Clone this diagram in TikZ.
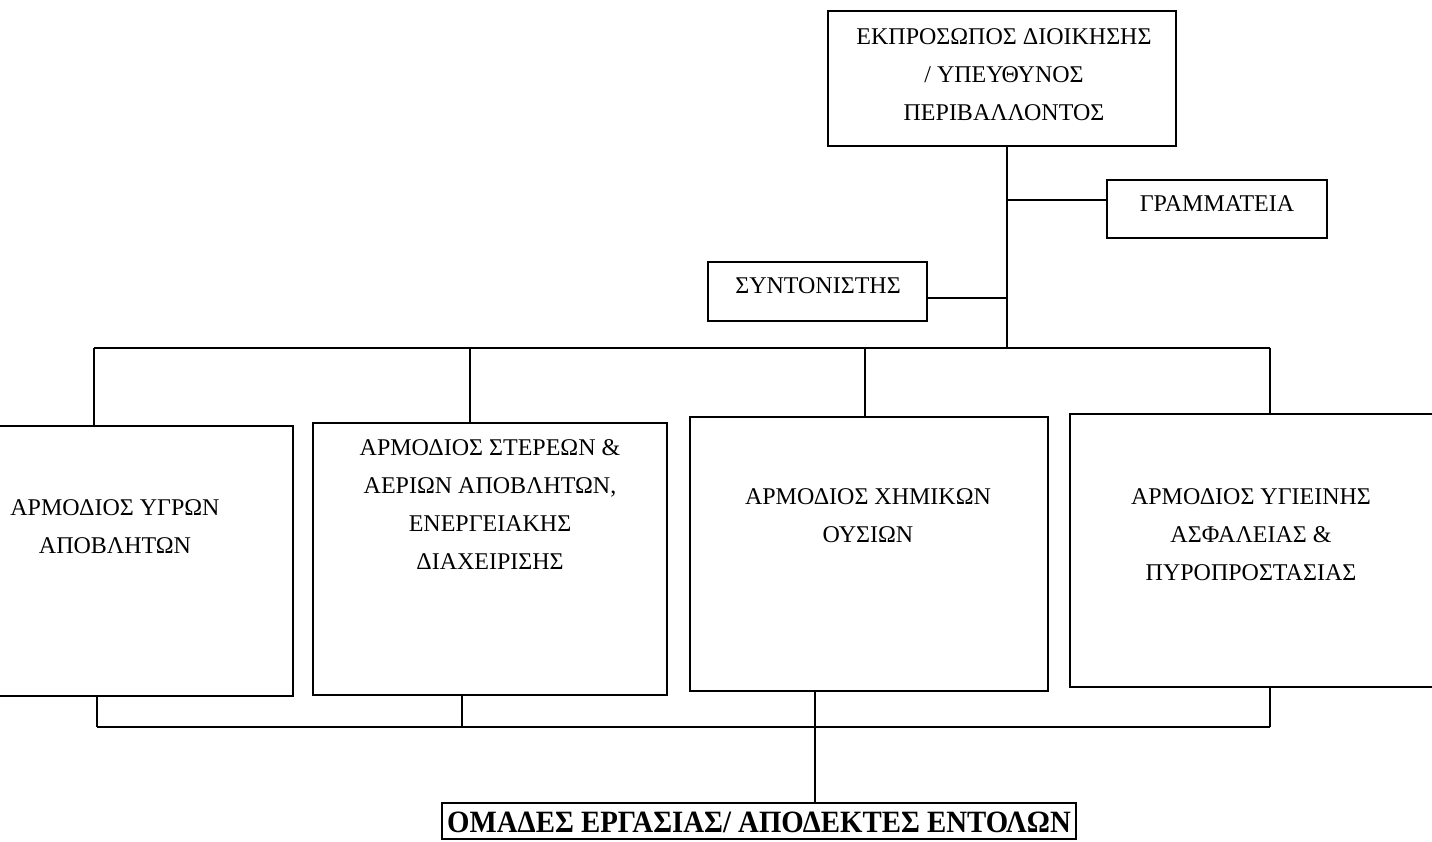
\documentclass[tikz,border=0pt]{standalone}
\usepackage{fontspec}
\setmainfont{Liberation Serif}
\begin{document}
\begin{tikzpicture}[x=1pt,y=-1pt,
  box/.style={draw, line width=1.8pt, inner sep=0pt},
  txt/.style={align=center, font=\fontsize{24}{38}\selectfont, inner sep=0pt},
  conn/.style={line width=1.8pt}]
\useasboundingbox (0,0) rectangle (1432,841);
% boxes
\node[box, minimum width=348pt, minimum height=135pt] (top) at (1002,78.5) {};
\node[box, minimum width=220pt, minimum height=58pt] (gram) at (1217,209) {};
\node[box, minimum width=219pt, minimum height=59pt] (synt) at (817.5,291.5) {};
\node[box, minimum width=356pt, minimum height=270pt] (b1) at (115,561) {};
\node[box, minimum width=354pt, minimum height=272pt] (b2) at (490,559) {};
\node[box, minimum width=358pt, minimum height=274pt] (b3) at (869,554) {};
\node[box, minimum width=366pt, minimum height=273pt] (b4) at (1253,550.5) {};
\node[box, line width=1.2pt, minimum width=634pt, minimum height=36pt] (bot) at (759,821) {};
% texts
\node[txt] (ttop) at (1004,75) {ΕΚΠΡΟΣΩΠΟΣ ΔΙΟΙΚΗΣΗΣ\\/ ΥΠΕΥΘΥΝΟΣ\\ΠΕΡΙΒΑΛΛΟΝΤΟΣ};
\node[txt] (tgram) at (1217,204) {ΓΡΑΜΜΑΤΕΙΑ};
\node[txt] (tsynt) at (818,286) {ΣΥΝΤΟΝΙΣΤΗΣ};
\node[txt] (tb1) at (115,527) {ΑΡΜΟΔΙΟΣ ΥΓΡΩΝ\\ΑΠΟΒΛΗΤΩΝ};
\node[txt] (tb2) at (490,505) {ΑΡΜΟΔΙΟΣ ΣΤΕΡΕΩΝ \&\\ΑΕΡΙΩΝ ΑΠΟΒΛΗΤΩΝ,\\ΕΝΕΡΓΕΙΑΚΗΣ\\ΔΙΑΧΕΙΡΙΣΗΣ};
\node[txt] (tb3) at (868,516) {ΑΡΜΟΔΙΟΣ ΧΗΜΙΚΩΝ\\ΟΥΣΙΩΝ};
\node[txt] (tb4) at (1251,535) {ΑΡΜΟΔΙΟΣ ΥΓΙΕΙΝΗΣ\\ΑΣΦΑΛΕΙΑΣ \&\\ΠΥΡΟΠΡΟΣΤΑΣΙΑΣ};
\node[inner sep=0pt, font=\fontsize{31}{32}\selectfont\bfseries] (tbot) at (759,822) {\scalebox{0.93}[1]{ΟΜΑΔΕΣ ΕΡΓΑΣΙΑΣ/ ΑΠΟΔΕΚΤΕΣ ΕΝΤΟΛΩΝ}};
% upper connectors
\coordinate (tb) at (1007,348);
\coordinate (jg) at (1007,200);
\coordinate (js) at (1007,298);
\draw[conn] (top.south -| tb) -- (tb);
\draw[conn] (jg) -- (jg -| gram.west);
\draw[conn] (synt.east |- js) -- (js);
\coordinate (bl) at (94,348);
\coordinate (d2) at (470,348);
\coordinate (d3) at (865,348);
\coordinate (br) at (1270,348);
\draw[conn] (bl) -- (br);
\draw[conn] (bl) -- (bl |- b1.north);
\draw[conn] (d2) -- (d2 |- b2.north);
\draw[conn] (d3) -- (d3 |- b3.north);
\draw[conn] (br) -- (br |- b4.north);
% lower connectors
\coordinate (ll) at (97,727);
\coordinate (l2) at (462,727);
\coordinate (l3) at (815,727);
\coordinate (lr) at (1270,727);
\draw[conn] (ll) -- (lr);
\draw[conn] (ll |- b1.south) -- (ll);
\draw[conn] (l2 |- b2.south) -- (l2);
\draw[conn] (lr |- b4.south) -- (lr);
\draw[conn] (l3 |- b3.south) -- (l3 |- bot.north);
\end{tikzpicture}
\end{document}
